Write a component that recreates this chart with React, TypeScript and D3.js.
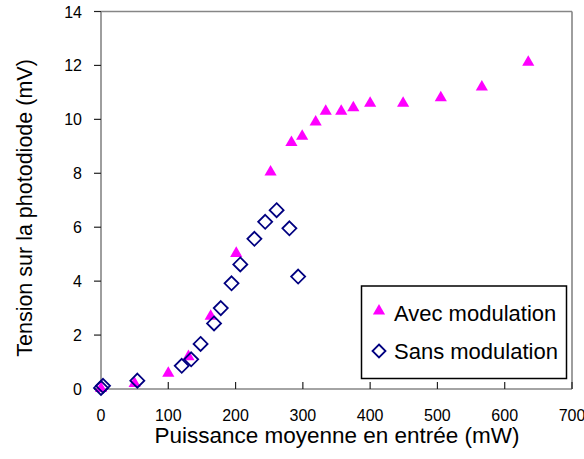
import React from "react";
import * as d3 from "d3";

const avecX = [0, 50, 100, 130, 163, 201, 252, 283, 299, 319, 334, 357, 375, 400, 449, 505, 566, 635];
const avecY = [0.02, 0.2, 0.58, 1.2, 2.7, 5.03, 8.05, 9.14, 9.37, 9.9, 10.3, 10.3, 10.43, 10.6, 10.6, 10.8, 11.2, 12.12];

const sansX = [0, 3, 54, 120, 134, 148, 168, 178, 194, 207, 228, 244, 261, 280, 293];
const sansY = [0.04, 0.12, 0.31, 0.86, 1.1, 1.67, 2.43, 3.0, 3.92, 4.62, 5.57, 6.2, 6.63, 5.96, 4.17];

const xTicks = [0, 100, 200, 300, 400, 500, 600, 700];
const yTicks = [0, 2, 4, 6, 8, 10, 12, 14];

const seriesNames = ["Avec modulation", "Sans modulation"];
const xTitle = "Puissance moyenne en entrée (mW)";
const yTitle = "Tension sur la photodiode (mV)";

const W = 584;
const H = 459;
const FONT = "'Liberation Sans', Arial, sans-serif";
const MAGENTA = "#FF00FF";
const NAVY = "#000080";
const AXIS = "#868686";

export default function App() {
  const x = d3.scaleLinear().domain([0, 700]).range([101, 572]);
  const y = d3.scaleLinear().domain([0, 14]).range([389, 11.5]);
  const tri = d3.symbol().type(d3.symbolTriangle).size(64)();
  const dia = (s: number) => `M0,${-s}L${s},0L0,${s}L${-s},0Z`;

  return (
    <svg width={W} height={H} style={{ position: "absolute", left: 0, top: 0, background: "#fff" }} fontFamily={FONT}>
      {/* plot border */}
      <line x1={x(0)} x2={x(700)} y1={y(14)} y2={y(14)} stroke={AXIS} strokeWidth={1.6} />
      <line x1={x(700)} x2={x(700)} y1={y(14)} y2={y(0)} stroke={AXIS} strokeWidth={1.6} />
      {/* axes */}
      <line x1={x(0)} x2={x(0)} y1={y(14)} y2={y(0)} stroke={AXIS} strokeWidth={1.6} />
      <line x1={x(0)} x2={x(700)} y1={y(0)} y2={y(0)} stroke={AXIS} strokeWidth={1.6} />
      {yTicks.map((t) => (
        <g key={"y" + t}>
          <line x1={x(0) - 7} x2={x(0)} y1={y(t)} y2={y(t)} stroke="#222" strokeWidth={1.2} />
          <text x={82} y={y(t) + 6} textAnchor="end" fontSize={16} fill="#000">{t}</text>
        </g>
      ))}
      {xTicks.map((t) => (
        <g key={"x" + t}>
          <line x1={x(t)} x2={x(t)} y1={y(0) - 7} y2={y(0)} stroke="#222" strokeWidth={1.2} />
          <text x={x(t)} y={420.5} textAnchor="middle" fontSize={16} fill="#000">{t}</text>
        </g>
      ))}
      <text x={337} y={443} textAnchor="middle" fontSize={22.5} fill="#000">{xTitle}</text>
      <text transform={`translate(32,208) rotate(-90)`} textAnchor="middle" fontSize={21.5} fill="#000">{yTitle}</text>

      {avecX.map((v, i) => (
        <path key={"a" + i} d={tri} transform={`translate(${x(v)},${y(avecY[i])})`} fill={MAGENTA} />
      ))}
      {sansX.map((v, i) => (
        <path key={"s" + i} d={dia(7)} transform={`translate(${x(v)},${y(sansY[i])})`} fill="none" stroke={NAVY} strokeWidth={1.8} />
      ))}

      {/* legend */}
      <rect x={361.5} y={286} width={205} height={92.5} fill="#fff" stroke="#000" strokeWidth={1.5} />
      <path d={tri} transform="translate(379,311)" fill={MAGENTA} />
      <text x={394} y={320.5} fontSize={22} fill="#000">{seriesNames[0]}</text>
      <path d={dia(6.5)} transform="translate(379,351)" fill="none" stroke={NAVY} strokeWidth={1.8} />
      <text x={394} y={358.5} fontSize={22} fill="#000">{seriesNames[1]}</text>
    </svg>
  );
}
